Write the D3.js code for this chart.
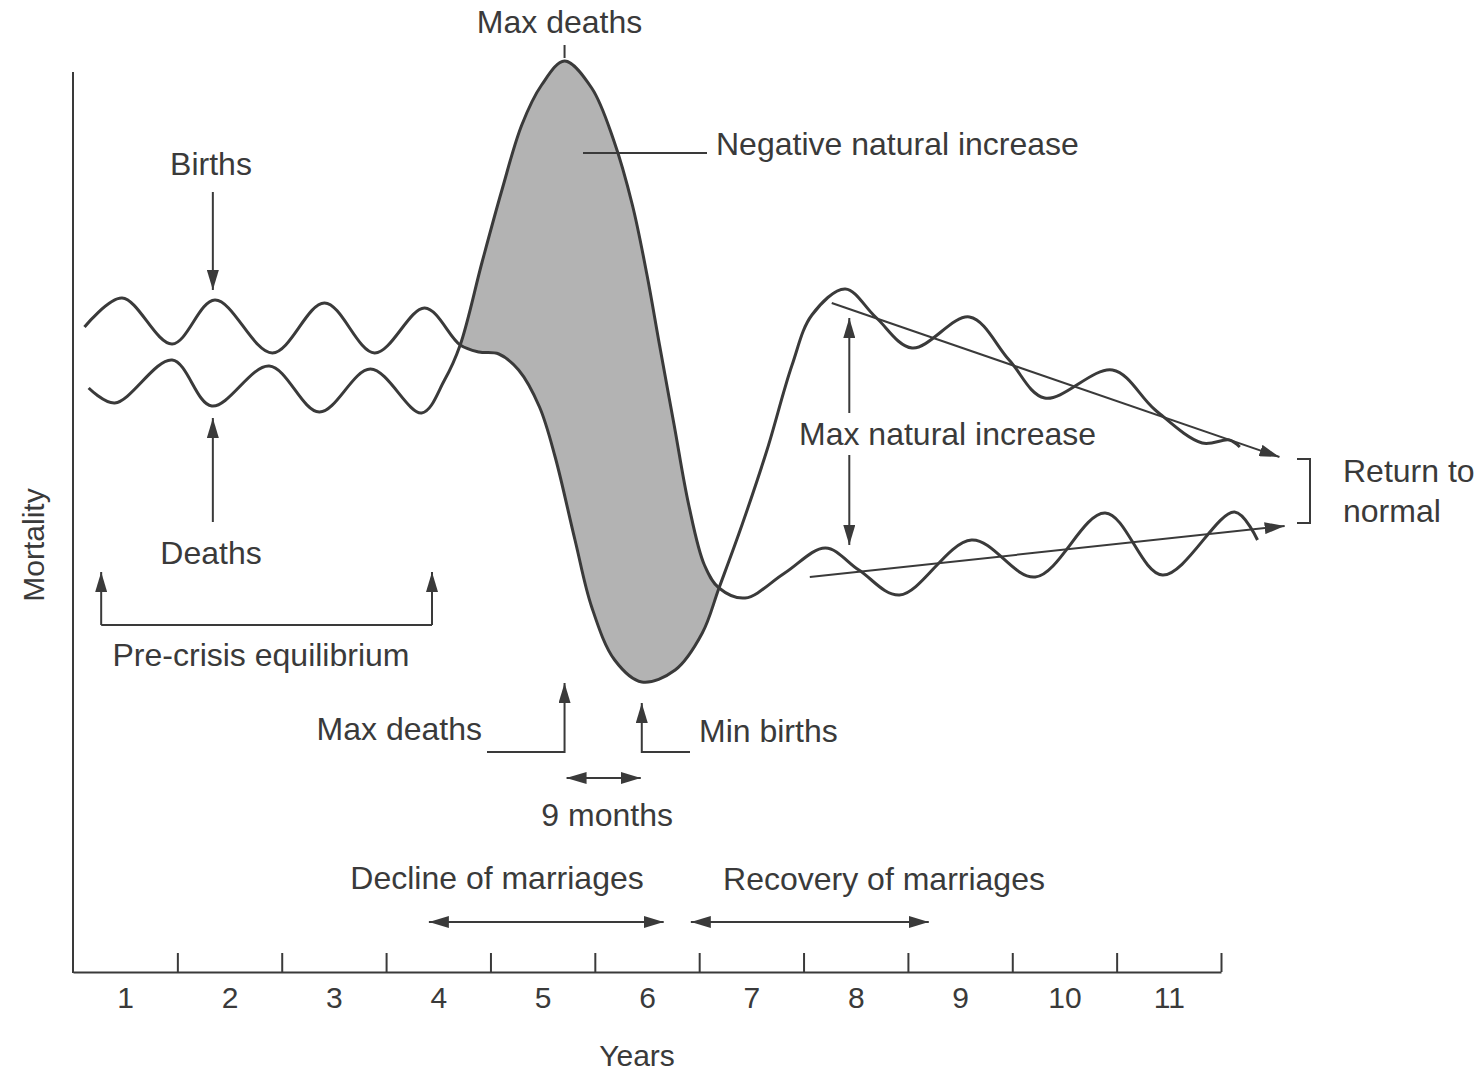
<!DOCTYPE html>
<meta charset="utf-8">
<style>
  body { margin: 0; background: #fff; }
  text { font-family: "Liberation Sans", Arial, sans-serif; fill: #3a3a3a; }
  .lbl { font-size: 32px; }
  .axis text { font-size: 30px; }
  .axis path, .axis line { stroke: #3a3a3a; stroke-width: 2px; }
  .curve { fill: none; stroke: #3a3a3a; stroke-width: 3px; }
  .note { fill: none; stroke: #3a3a3a; stroke-width: 2px; }
</style>

<svg width="1482" height="1073"></svg>
<script src="https://d3js.org/d3.v7.min.js"></script>
<script>
// Years along the bottom, tick marks sit between them
var years = [1, 2, 3, 4, 5, 6, 7, 8, 9, 10, 11];
var yearBounds = [1.5, 2.5, 3.5, 4.5, 5.5, 6.5, 7.5, 8.5, 9.5, 10.5, 11.5];

// Curves: [year, rate index]
var births = [
  [0.61, 64.5], [0.97, 67.4], [1.45, 62.8], [1.86, 67.2], [2.41, 61.9],
  [2.91, 66.9], [3.39, 61.9], [3.87, 66.4], [4.21, 62.7], [4.39, 62.0],
  [4.58, 61.8], [4.77, 60.2], [4.97, 56.5], [5.12, 51.5], [5.31, 43.2],
  [5.47, 36.5], [5.69, 31.2], [5.95, 29.0], [6.27, 30.2], [6.53, 33.9],
  [6.69, 38.4], [6.91, 44.7], [7.15, 52.2], [7.39, 60.7],
  [7.58, 65.7], [7.90, 68.3], [8.19, 65.5], [8.54, 62.4], [9.09, 65.5],
  [9.47, 61.2], [9.81, 57.4], [10.46, 60.2], [10.87, 56.2], [11.32, 52.9],
  [11.58, 53.2], [11.68, 52.5]
];
var deaths = [
  [0.65, 58.4], [0.90, 56.9], [1.45, 61.2], [1.83, 56.6], [2.38, 60.6],
  [2.86, 56.0], [3.35, 60.3], [3.84, 55.9], [4.06, 59.2], [4.21, 62.7],
  [4.42, 71.0], [4.61, 78.2], [4.80, 84.7], [4.99, 88.7], [5.21, 91.1],
  [5.47, 88.4], [5.68, 83.2], [5.86, 76.7], [6.00, 69.7], [6.12, 62.7],
  [6.26, 54.7], [6.40, 46.7], [6.55, 40.7], [6.69, 38.4], [6.94, 37.4],
  [7.32, 39.9], [7.71, 42.4], [8.03, 40.2], [8.42, 37.7], [9.11, 43.2],
  [9.72, 39.5], [10.39, 45.9], [10.94, 39.7], [11.63, 46.0], [11.85, 43.2]
];

// Trend lines toward the return to normal
var birthsTrend = [[7.77, 66.9], [12.06, 51.5]];
var deathsTrend = [[7.56, 39.5], [12.11, 44.6]];

// Spans marked with double arrows (years)
var preCrisis = [0.77, 3.94];
var marriageDecline = [3.91, 6.16];
var marriageRecovery = [6.42, 8.70];

var svg = d3.select("svg");

var x = d3.scaleLinear().domain([0.5, 11.5]).range([73, 1221]);
var y = d3.scaleLinear().domain([0, 90]).range([972, 72]);

var ink = "#3a3a3a";
var smooth = d3.curveCatmullRom.alpha(0.5);

// arrow head
var defs = svg.append("defs");
defs.append("marker")
    .attr("id", "head")
    .attr("viewBox", "0 0 20 12")
    .attr("refX", 20).attr("refY", 6)
    .attr("markerWidth", 20).attr("markerHeight", 12)
    .attr("markerUnits", "userSpaceOnUse")
    .attr("orient", "auto-start-reverse")
  .append("path")
    .attr("d", "M0,0 L20,6 L0,12 Z")
    .attr("fill", ink);

var line = d3.line()
    .x(function(d) { return x(d[0]); })
    .y(function(d) { return y(d[1]); })
    .curve(smooth);

// shaded negative natural increase: under deaths, above births
defs.append("clipPath")
    .attr("id", "aboveBirths")
  .append("path")
    .attr("d", d3.area()
        .x(function(d) { return x(d[0]); })
        .y0(0)
        .y1(function(d) { return y(d[1]); })
        .curve(smooth)(births));

svg.append("path")
    .attr("clip-path", "url(#aboveBirths)")
    .attr("fill", "#b3b3b3")
    .attr("d", d3.area()
        .x(function(d) { return x(d[0]); })
        .y0(y(0))
        .y1(function(d) { return y(d[1]); })
        .curve(smooth)(deaths));

svg.append("path").attr("class", "curve").attr("d", line(births));
svg.append("path").attr("class", "curve").attr("d", line(deaths));

// trend arrows
[birthsTrend, deathsTrend].forEach(function(t) {
  svg.append("line").attr("class", "note")
      .attr("x1", x(t[0][0])).attr("y1", y(t[0][1]))
      .attr("x2", x(t[1][0])).attr("y2", y(t[1][1]))
      .attr("marker-end", "url(#head)");
});

// axes
svg.append("g")
    .attr("class", "axis")
    .attr("transform", "translate(0," + y(0) + ")")
    .call(d3.axisBottom(x).tickValues(yearBounds).tickSize(-19).tickSizeOuter(0).tickFormat(""));
svg.append("g")
    .attr("class", "axis")
    .attr("transform", "translate(0," + y(0) + ")")
    .call(d3.axisBottom(x).tickValues(years).tickSize(0).tickPadding(15))
    .call(function(g) { g.select(".domain").remove(); })
    .selectAll("text").attr("fill", ink);
svg.append("line").attr("class", "note")
    .attr("x1", x(0.5)).attr("x2", x(0.5))
    .attr("y1", y(0) + 1).attr("y2", y(90));

svg.append("text").attr("class", "axis-title")
    .attr("x", 637).attr("y", 1066)
    .attr("text-anchor", "middle").style("font-size", "30px")
    .text("Years");
svg.append("text")
    .attr("transform", "translate(44,545) rotate(-90)")
    .attr("text-anchor", "middle").style("font-size", "30px")
    .text("Mortality");

function label(txt, px, py, anchor) {
  svg.append("text").attr("class", "lbl")
      .attr("x", px).attr("y", py)
      .attr("text-anchor", anchor || "start")
      .text(txt);
}
function arrow(pts, both) {
  var p = svg.append("path").attr("class", "note")
      .attr("d", d3.line()(pts))
      .attr("marker-end", "url(#head)");
  if (both) p.attr("marker-start", "url(#head)");
}

var peakDeath = deaths.reduce(function(a, b) { return b[1] > a[1] ? b : a; });
var lowBirth = births.reduce(function(a, b) { return b[1] < a[1] ? b : a; });
var recoveryPeak = births.filter(function(d) { return d[0] > 7; })
    .reduce(function(a, b) { return b[1] > a[1] ? b : a; });

// top: max deaths
label("Max deaths", x(peakDeath[0]) - 5, 33, "middle");
svg.append("line").attr("class", "note")
    .attr("x1", x(peakDeath[0])).attr("x2", x(peakDeath[0]))
    .attr("y1", y(peakDeath[1]) - 3).attr("y2", y(peakDeath[1]) - 16);

label("Negative natural increase", 716, 155);
svg.append("line").attr("class", "note")
    .attr("x1", 583).attr("x2", 707).attr("y1", 153).attr("y2", 153);

// births / deaths pointers
label("Births", 211, 175, "middle");
arrow([[x(1.84), 192], [x(1.84), 290]]);
label("Deaths", 211, 564, "middle");
arrow([[x(1.84), 522], [x(1.84), 418]]);

// pre-crisis equilibrium bracket
arrow([[x(preCrisis[0]), 625], [x(preCrisis[0]), 572]]);
arrow([[x(preCrisis[1]), 625], [x(preCrisis[1]), 572]]);
svg.append("line").attr("class", "note")
    .attr("x1", x(preCrisis[0])).attr("x2", x(preCrisis[1]))
    .attr("y1", 625).attr("y2", 625);
label("Pre-crisis equilibrium", 261, 666, "middle");

// max deaths / min births below the trough
arrow([[487, 752], [x(peakDeath[0]), 752], [x(peakDeath[0]), 683]]);
label("Max deaths", 482, 740, "end");
arrow([[690, 752], [x(lowBirth[0]), 752], [x(lowBirth[0]), 703]]);
label("Min births", 699, 742);

// 9 months
arrow([[x(peakDeath[0]) + 2, 778], [x(lowBirth[0]) - 1, 778]], true);
label("9 months", (x(peakDeath[0]) + x(lowBirth[0])) / 2 + 4, 826, "middle");

// marriages
label("Decline of marriages", 497, 889, "middle");
arrow([[x(marriageDecline[0]), 922], [x(marriageDecline[1]), 922]], true);
label("Recovery of marriages", 884, 890, "middle");
arrow([[x(marriageRecovery[0]), 922], [x(marriageRecovery[1]), 922]], true);

// max natural increase
label("Max natural increase", 799, 445);
arrow([[x(recoveryPeak[0]) + 4, 413], [x(recoveryPeak[0]) + 4, 318]]);
arrow([[x(recoveryPeak[0]) + 4, 455], [x(recoveryPeak[0]) + 4, 545]]);

// return to normal bracket
svg.append("path").attr("class", "note")
    .attr("d", "M1297,459 H1310 V523 H1297");
label("Return to", 1343, 482);
label("normal", 1343, 522);
</script>
